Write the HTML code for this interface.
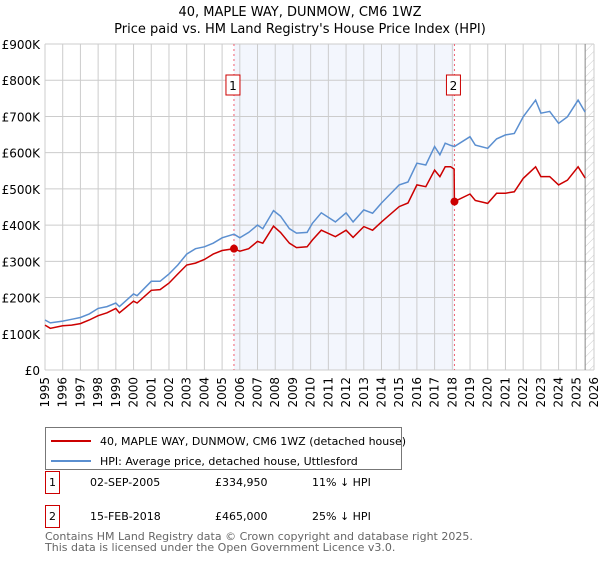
<!DOCTYPE html>
<html><head><meta charset="utf-8"><style>
body{margin:0;background:#fff;font-family:"Liberation Sans","DejaVu Sans",sans-serif}
svg text{font-family:"DejaVu Sans","Liberation Sans",sans-serif}
</style></head><body>
<svg id="c" width="600" height="560" viewBox="0 0 600 560"></svg>
<script>
const hpiYears=[1995,1995.3,1996,1996.5,1997,1997.5,1998,1998.5,1999,1999.2,2000,2000.2,2001,2001.5,2002,2002.5,2003,2003.5,2004,2004.5,2005,2005.67,2006,2006.5,2007,2007.3,2007.9,2008.3,2008.8,2009.2,2009.8,2010.1,2010.6,2011.4,2012,2012.4,2013,2013.5,2014,2015,2015.5,2016,2016.5,2017,2017.3,2017.6,2017.9,2018.12,2019,2019.3,2020,2020.5,2021,2021.5,2022,2022.7,2023,2023.5,2024,2024.5,2025.1,2025.5];
const hpiValues=[138,130,135,140,145,155,170,175,185,175,210,205,245,245,265,290,320,335,340,350,365,375,365,380,400,390,440,425,390,378,380,405,434,409,434,409,442,433,461,511,519,571,566,617,594,626,620,617,644,621,612,638,649,653,699,745,709,714,681,699,745,712];
const priceYears=[1995,1995.3,1996,1996.5,1997,1997.5,1998,1998.5,1999,1999.2,2000,2000.2,2001,2001.5,2002,2002.5,2003,2003.5,2004,2004.5,2005,2005.67,2006,2006.5,2007,2007.3,2007.9,2008.3,2008.8,2009.2,2009.8,2010.1,2010.6,2011.4,2012,2012.4,2013,2013.5,2014,2015,2015.5,2016,2016.5,2017,2017.3,2017.6,2017.9,2018.1,2018.12,2019,2019.3,2020,2020.5,2021,2021.5,2022,2022.7,2023,2023.5,2024,2024.5,2025.1,2025.5];
const priceValues=[124,115,122,124,128,138,150,158,170,158,190,185,220,222,240,265,290,295,305,320,330,335,328,335,355,350,397,380,350,338,340,359,386,368,386,366,396,386,409,451,461,511,506,552,534,561,561,555,465,486,468,460,488,488,492,529,561,534,534,511,524,561,530];
const yTicks=[0,100,200,300,400,500,600,700,800,900];
const yTickLabels=["£0","£100K","£200K","£300K","£400K","£500K","£600K","£700K","£800K","£900K"];
const xTicks=[1995,1996,1997,1998,1999,2000,2001,2002,2003,2004,2005,2006,2007,2008,2009,2010,2011,2012,2013,2014,2015,2016,2017,2018,2019,2020,2021,2022,2023,2024,2025,2026];
const saleYears=[2005.67,2018.12];
const saleValues=[334.95,465];
const saleLabels=["1","2"];
const dataEnd=2025.5;

const S=document.getElementById('c'),NS='http://www.w3.org/2000/svg';
const L=45,R=594,T=44,B=370;
const X=y=>L+(y-1995)/(2026-1995)*(R-L);
const Y=v=>B-v/900*(B-T);
function mk(t,a,p){const e=document.createElementNS(NS,t);for(const k in a)e.setAttribute(k,a[k]);(p||S).appendChild(e);return e;}
function tx(x,y,s,a){const e=mk('text',Object.assign({x:x,y:y},a||{}));e.textContent=s;return e;}

let e;
e=tx(300,16,"40, MAPLE WAY, DUNMOW, CM6 1WZ",{'text-anchor':'middle','font-size':13});


e=tx(300,33,"Price paid vs. HM Land Registry's House Price Index (HPI)",{'text-anchor':'middle','font-size':13});



e=mk('rect',{x:X(saleYears[0]),y:T,width:X(saleYears[1])-X(saleYears[0]),height:B-T,fill:'#eef2fc',opacity:0.7});


const defs=mk('defs',{});
const pat=mk('pattern',{id:'h',width:6,height:6,patternUnits:'userSpaceOnUse',patternTransform:'rotate(45)'},defs);
mk('line',{x1:0,y1:0,x2:0,y2:6,stroke:'#ccc','stroke-width':1},pat);
e=mk('rect',{x:X(dataEnd),y:T,width:R-X(dataEnd),height:B-T,fill:'url(#h)'});



yTicks.forEach((v,i)=>{
 e=mk('line',{x1:L,x2:R,y1:Y(v),y2:Y(v),stroke:'#ccc','stroke-width':1});
 
 
 e=tx(40,Y(v)+5,yTickLabels[i],{'text-anchor':'end','font-size':12});
 
 
});
xTicks.forEach(yr=>{
 e=mk('line',{x1:X(yr),x2:X(yr),y1:T,y2:B,stroke:'#ccc','stroke-width':1});
 
 
 e=tx(X(yr)+4,377,String(yr),{'text-anchor':'end','font-size':12,transform:`rotate(-90 ${X(yr)+4} 377)`});
 
 
});
e=mk('line',{x1:X(dataEnd),x2:X(dataEnd),y1:T,y2:B,stroke:'#888','stroke-width':1});



saleYears.forEach((yr,i)=>{
 e=mk('line',{x1:X(yr),x2:X(yr),y1:T,y2:B,stroke:'#f06070','stroke-width':1,'stroke-dasharray':'2,3'});
 
 
 e=mk('rect',{x:X(yr)-8,y:75,width:14,height:20,fill:'#fff',stroke:'#c00','stroke-width':1});
 
 
 tx(X(yr)-1,90,saleLabels[i],{'text-anchor':'middle','font-size':12});
});

const pts=(xs,vs)=>xs.map((x,i)=>X(x).toFixed(1)+','+Y(vs[i]).toFixed(1)).join(' ');
e=mk('polyline',{points:pts(hpiYears,hpiValues),fill:'none',stroke:'#5b8fd0','stroke-width':1.5});


e=mk('polyline',{points:pts(priceYears,priceValues),fill:'none',stroke:'#cc0000','stroke-width':1.5});


saleYears.forEach((yr,i)=>{
 e=mk('circle',{cx:X(yr),cy:Y(saleValues[i]),r:4,fill:'#cc0000'});
 
 
});

// legend
e=mk('rect',{x:45.5,y:427.5,width:356,height:42,fill:'#fff',stroke:'#777','stroke-width':1});


mk('line',{x1:51,x2:91,y1:441,y2:441,stroke:'#cc0000','stroke-width':2});
e=tx(100,445,"40, MAPLE WAY, DUNMOW, CM6 1WZ (detached house)",{'font-size':11});


mk('line',{x1:51,x2:91,y1:461,y2:461,stroke:'#5b8fd0','stroke-width':2});
e=tx(100,465,"HPI: Average price, detached house, Uttlesford",{'font-size':11});



const rows=[["1","02-SEP-2005","£334,950","11% ↓ HPI",482],["2","15-FEB-2018","£465,000","25% ↓ HPI",516]];
rows.forEach(r=>{
 e=mk('rect',{x:45.5,y:r[4]-10.5,width:14,height:22,fill:'#fff',stroke:'#c00','stroke-width':1});
 
 
 tx(52.5,r[4]+4,r[0],{'text-anchor':'middle','font-size':11});
 e=tx(90,r[4]+4,r[1],{'font-size':11});
 
 
 e=tx(215,r[4]+4,r[2],{'font-size':11});
 
 
 e=tx(312,r[4]+4,r[3],{'font-size':11});
 
 
});
e=tx(45,540,"Contains HM Land Registry data © Crown copyright and database right 2025.",{'font-size':11,fill:'#666'});


e=tx(45,551,"This data is licensed under the Open Government Licence v3.0.",{'font-size':11,fill:'#666'});


</script>
</body></html>
